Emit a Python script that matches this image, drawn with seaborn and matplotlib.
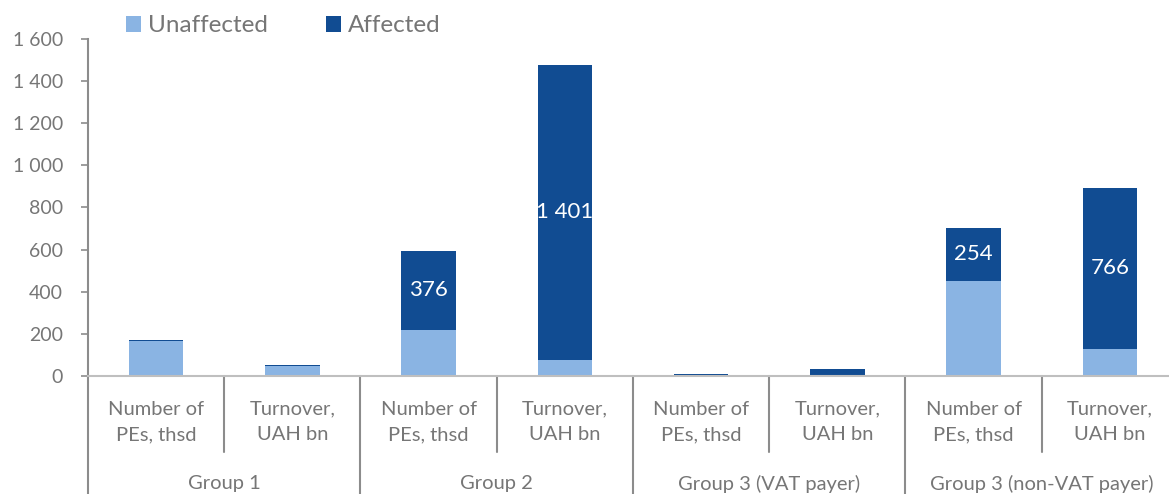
import numpy as np
import pandas as pd
import matplotlib
matplotlib.use("Agg")
import matplotlib.pyplot as plt
import matplotlib.ticker as mticker
from matplotlib.patches import Patch
import seaborn as sns

groups = ["Group 1", "Group 2", "Group 3 (VAT payer)", "Group 3 (non-VAT payer)"]
metrics = ["Number of\nPEs, thsd", "Turnover,\nUAH bn"]
unaffected = [164, 48, 218, 76, 1, 2, 450, 128]
affected = [6, 4, 376, 1401, 10, 31, 254, 766]
labelled = [False, False, True, True, False, False, True, True]
yticks = [0, 200, 400, 600, 800, 1000, 1200, 1400, 1600]

LIGHT = "#8AB4E3"
DARK = "#114C92"
GREY = "#767676"
AXC = "#8C8C8C"

sns.set_theme(style="white")
plt.rcParams["font.family"] = ["Lato", "DejaVu Sans"]

cats = [f"{g}|{m}" for g in groups for m in metrics]
df = pd.DataFrame({
    "cat": cats,
    "unaffected": unaffected,
    "affected": affected,
})
df["total"] = df["unaffected"] + df["affected"]

fig = plt.figure(figsize=(11.69, 4.94), dpi=100)
ax = fig.add_axes([88 / 1169, (494 - 376) / 494, 1090 / 1169, 337 / 494])

sns.barplot(data=df, x="cat", y="total", color=DARK, width=0.4,
            saturation=1, ax=ax, order=cats, linewidth=0, edgecolor="none")
sns.barplot(data=df, x="cat", y="unaffected", color=LIGHT, width=0.4,
            saturation=1, ax=ax, order=cats, linewidth=0, edgecolor="none")

ax.set_ylim(0, 1600)
ax.set_xlim(-0.5, len(cats) - 0.5)
ax.set_yticks(yticks)
ax.yaxis.set_major_formatter(mticker.FuncFormatter(lambda v, p: f"{int(v):,}".replace(",", " ")))
ax.tick_params(axis="y", left=True, length=5, width=1.2, color=AXC,
               labelsize=14, labelcolor=GREY, pad=13)
ax.tick_params(axis="x", bottom=False, labelbottom=False)
ax.set_xlabel("")
ax.set_ylabel("")
for s in ["top", "right"]:
    ax.spines[s].set_visible(False)
ax.spines["left"].set_color(AXC)
ax.spines["left"].set_linewidth(1.5)
ax.spines["bottom"].set_color("#BFBFBF")
ax.spines["bottom"].set_linewidth(1.5)

# data labels
for i, (u, a, show) in enumerate(zip(unaffected, affected, labelled)):
    if show:
        ax.text(i, u + a / 2, f"{a:,}".replace(",", " "), ha="center", va="center",
                color="white", fontsize=16)

# category axis
trans = ax.get_xaxis_transform()
for i in range(len(cats) + 1):
    x = i - 0.5
    if i % 2 == 0:
        ax.plot([x, x], [0, -0.36], transform=trans, color=AXC, lw=1.5, clip_on=False)
    else:
        ax.plot([x, x], [0, -0.225], transform=trans, color=AXC, lw=1.5, clip_on=False)
for i, c in enumerate(cats):
    m = c.split("|")[1]
    ax.text(i, -0.136, m, transform=trans, ha="center", va="center",
            fontsize=14.5, color=GREY, linespacing=1.6)
for j, g in enumerate(groups):
    ax.text(2 * j + 0.5, -0.32, g, transform=trans, ha="center", va="center",
            fontsize=14.5, color=GREY)

handles = [Patch(facecolor=LIGHT, edgecolor="none", label="Unaffected"),
           Patch(facecolor=DARK, edgecolor="none", label="Affected")]
fig.legend(handles=handles, loc="center left", bbox_to_anchor=(126 / 1169, 1 - 26 / 494),
           ncol=2, frameon=False, fontsize=17.5, labelcolor=GREY,
           handlelength=0.6, handleheight=0.6, handletextpad=0.3,
           columnspacing=2.4, borderpad=0, borderaxespad=0)

fig.savefig("out.png", dpi=100)
